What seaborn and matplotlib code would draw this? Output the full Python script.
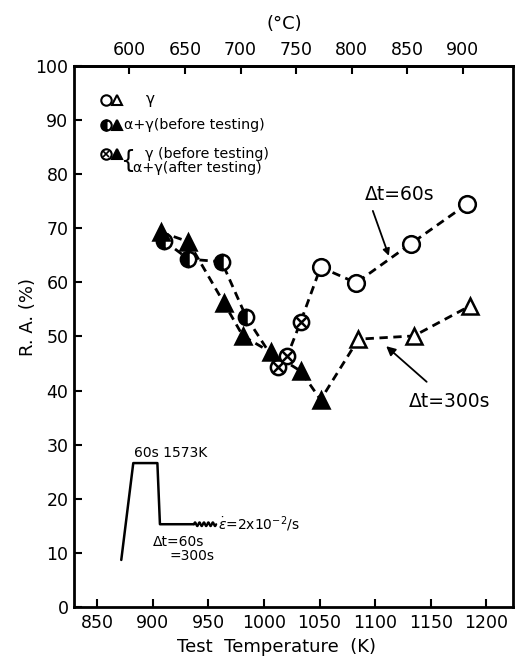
import numpy as np
import pandas as pd
import matplotlib.pyplot as plt
import seaborn as sns

# dt = 60 s series (circles)
temp_60 = [910, 932, 962, 984, 1013, 1021, 1033, 1051, 1083, 1132, 1183]
ra_60 = [67.7, 64.3, 63.8, 53.6, 44.4, 46.4, 52.7, 62.8, 59.9, 67.1, 74.5]
kind_60 = ['half', 'half', 'half', 'half', 'cross', 'cross', 'cross',
           'open', 'open', 'open', 'open']

# dt = 300 s series (triangles)
temp_300 = [907, 932, 964, 981, 1006, 1033, 1051, 1085, 1135, 1185]
ra_300 = [69.3, 67.5, 56.2, 50.1, 47.1, 43.6, 38.3, 49.5, 50.1, 55.6]
kind_300 = ['filled'] * 7 + ['open'] * 3

# heat treatment schematic (inset)
sched_t = [871.6, 882.4, 904.1, 906.4, 937.0]
sched_y = [8.7, 26.6, 26.6, 15.3, 15.3]

k_ticks = list(range(850, 1201, 50))
c_ticks = list(range(600, 901, 50))
ra_ticks = list(range(0, 101, 10))

df60 = pd.DataFrame({'temp': temp_60, 'ra': ra_60, 'kind': kind_60})
df300 = pd.DataFrame({'temp': temp_300, 'ra': ra_300, 'kind': kind_300})

sns.set_style('ticks')
plt.rcParams['font.family'] = ['DejaVu Sans']
plt.rcParams['mathtext.fontset'] = 'dejavusans'
for key in ['text.color', 'axes.labelcolor', 'xtick.color', 'ytick.color',
            'axes.edgecolor']:
    plt.rcParams[key] = 'black'

fig = plt.figure(figsize=(5.17, 6.64), dpi=100)
ax = fig.add_axes([0.143, 0.0858, 0.849, 0.815])

dash = (0, (3, 2))
sns.lineplot(data=df60, x='temp', y='ra', color='black', linewidth=2,
             linestyle=dash, ax=ax, zorder=1)
sns.lineplot(data=df300, x='temp', y='ra', color='black', linewidth=2,
             linestyle=dash, ax=ax, zorder=1)

mk = dict(color='black', mec='black', mew=1.8, ls='none', zorder=3)
d = df60[df60.kind == 'half']
ax.plot(d.temp, d.ra, 'o', ms=11, fillstyle='left', markerfacecoloralt='white', **mk)
d = df60[df60.kind == 'cross']
ax.plot(d.temp, d.ra, 'o', ms=11, mfc='white', **mk)
ax.plot(d.temp, d.ra, 'x', ms=6.5, **mk)
d = df60[df60.kind == 'open']
ax.plot(d.temp, d.ra, 'o', ms=12, mfc='white', **mk)
d = df300[df300.kind == 'filled']
ax.plot(d.temp, d.ra, '^', ms=11, mfc='black', **mk)
d = df300[df300.kind == 'open']
ax.plot(d.temp, d.ra, '^', ms=12, mfc='white', **mk)

ax.set_xlim(829, 1224)
ax.set_ylim(0, 100)
ax.set_xticks(k_ticks)
ax.set_yticks(ra_ticks)
ax.tick_params(direction='in', length=6, width=1.5, labelsize=12.5)
ax.tick_params(axis='x', pad=5)
ax.tick_params(axis='y', pad=4)
for s in ax.spines.values():
    s.set_linewidth(2)

top = ax.secondary_xaxis('top', functions=(lambda k: k - 279, lambda c: c + 279))
top.set_xticks(c_ticks)
top.tick_params(direction='in', length=6, width=1.5, labelsize=12.5, pad=5)
top.spines['top'].set_linewidth(2)

ax.set_xlabel('Test  Temperature  (K)', fontsize=13)
ax.xaxis.set_label_coords(0.462, -0.058)
ax.set_ylabel('R. A. (%)', fontsize=13)
ax.yaxis.set_label_coords(-0.084, 0.536)
fig.text(284 / 517, 1 - 24 / 664, '(°C)', ha='center', va='center', fontsize=13)

# annotations
ax.text(1122, 76.2, 'Δt=60s', ha='center', va='center', fontsize=13.5)
ax.annotate('', xy=(1112.4, 64.9), xytext=(1098, 73.2),
            arrowprops=dict(arrowstyle='-|>', color='black', lw=1.3,
                            shrinkA=0, shrinkB=0))
ax.annotate('Δt=300s', xy=(1110, 48.2), xytext=(1167, 37.9), ha='center', va='center',
            fontsize=13.5,
            arrowprops=dict(arrowstyle='-|>', color='black', lw=1.3,
                            shrinkA=8, shrinkB=0))

# legend block
lk = dict(transform=ax.transAxes, ls='none', color='black', mec='black',
          mew=1.5, clip_on=False)
rows = [0.937, 0.891, 0.837, 0.811]
cx, tx = 0.073, 0.097
ax.plot(cx, rows[0], 'o', ms=7.5, mfc='white', **lk)
ax.plot(tx, rows[0], '^', ms=7.5, mfc='white', **lk)
ax.text(0.163, rows[0], 'γ', transform=ax.transAxes, va='center', fontsize=11)
ax.plot(cx, rows[1], 'o', ms=7.5, fillstyle='left', markerfacecoloralt='white', **lk)
ax.plot(tx, rows[1], '^', ms=7.5, mfc='black', **lk)
ax.text(0.113, rows[1], 'α+γ(before testing)', transform=ax.transAxes,
        va='center', fontsize=10.3)
ax.plot(cx, rows[2], 'o', ms=7.5, mfc='white', **lk)
ax.plot(cx, rows[2], 'x', ms=4.5, mew=1.2, transform=ax.transAxes, ls='none',
        color='black', clip_on=False)
ax.plot(tx, rows[2], '^', ms=7.5, mfc='black', **lk)
ax.text(0.104, (rows[2] + rows[3]) / 2, '{', transform=ax.transAxes,
        va='center', fontsize=17)
ax.text(0.163, rows[2], 'γ (before testing)', transform=ax.transAxes,
        va='center', fontsize=10.3)
ax.text(0.135, rows[3], 'α+γ(after testing)', transform=ax.transAxes,
        va='center', fontsize=10.3)

# inset schematic of thermal cycle
ax.plot(sched_t, sched_y, color='black', lw=1.8)
wx = np.linspace(937, 957, 60)
ax.plot(wx, 15.3 + 0.35 * np.sin((wx - 937) * 2 * np.pi / 4), color='black', lw=1.6)
ax.text(883, 28.4, '60s 1573K', fontsize=10, va='center')
ax.text(959, 15.3, r'$\dot{\varepsilon}$=2x10$^{-2}$/s', fontsize=10, va='center')
ax.text(900.5, 12.0, 'Δt=60s', fontsize=10, va='center')
ax.text(915, 9.4, '=300s', fontsize=10, va='center')

fig.savefig('out.png', dpi=100)
